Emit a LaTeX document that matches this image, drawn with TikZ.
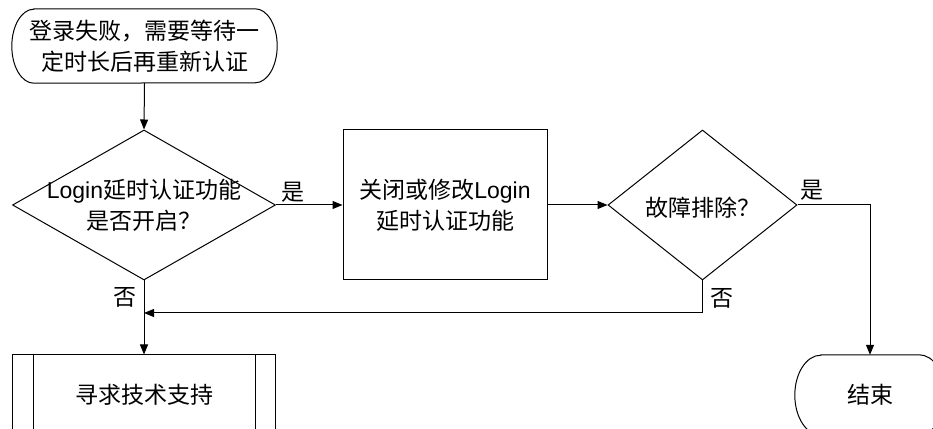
\documentclass[tikz,border=0pt]{standalone}
\usepackage{fontspec}
\setmainfont{Noto Sans CJK SC}
\newfontfamily\lat{Liberation Sans}
\usetikzlibrary{shapes.geometric,arrows.meta}
\begin{document}
\begin{tikzpicture}[x=1pt,y=1pt,
  every node/.style={font=\fontsize{23}{31}\selectfont, text=black},
  line/.style={line width=1pt, draw=black},
  arr/.style={line, -{Triangle[length=10pt,width=8pt]}},
  dia/.style={shape=diamond, line, minimum width=#1, minimum height=150pt, inner sep=0pt},
  boxnode/.style={shape=rectangle, line, inner sep=0pt, align=center},
  termnode/.style={shape=rectangle, draw=none, inner sep=0pt, align=center},
  lbl/.style={inner sep=0pt}
]
\useasboundingbox (0,0) rectangle (933,428);
\clip (0,0) rectangle (933,428);

% start terminator
\node[termnode, minimum width=265pt, minimum height=74pt] (s) at (144.5,382) {登录失败，需要等待一\\定时长后再重新认证};
\draw[line] ([xshift=22pt]s.north west) -- ([xshift=-22pt]s.north east)
  arc[start angle=90,end angle=-90,x radius=22pt,y radius=37pt]
  -- ([xshift=22pt]s.south west)
  arc[start angle=270,end angle=90,x radius=22pt,y radius=37pt] -- cycle;

% decision 1
\node[dia=263pt, label={[align=center]center:{{\lat Login}延时认证功能\\是否开启？}}] (d1) at (144,223) {};

% process box
\node[boxnode, minimum width=204pt, minimum height=150pt] (b2) at (445,223) {关闭或修改{\lat Login}\\延时认证功能};

% decision 2
\node[dia=189pt, label={[yshift=-3pt]center:{故障排除？}}] (d2) at (702.5,223) {};

% end terminator
\node[termnode, minimum width=150pt, minimum height=80pt] (e) at (870,33) {结束};
\draw[line] ([xshift=26pt]e.north west) -- ([xshift=-26pt]e.north east)
  arc[start angle=90,end angle=-90,x radius=26pt,y radius=40pt]
  -- ([xshift=26pt]e.south west)
  arc[start angle=270,end angle=90,x radius=26pt,y radius=40pt] -- cycle;

% predefined process
\node[boxnode, minimum width=263pt, minimum height=80pt] (b3) at (144,33) {寻求技术支持};
\draw[line] ([xshift=21pt]b3.north west) -- ([xshift=21pt]b3.south west);
\draw[line] ([xshift=-21pt]b3.north east) -- ([xshift=-21pt]b3.south east);

% connectors
\coordinate (j) at (144,115);
\draw[arr] (s.south) -- (d1.north);
\draw[arr] (d1.east) -- (b2.west);
\draw[arr] (b2.east) -- (d2.west);
\draw[arr] (d2.east) -| (e.north);
\draw[arr] (d1.south) -- (b3.north);
\draw[arr] (d2.south) |- (j);

% labels
\node[lbl] (y1) at (293,236) {是};
\node[lbl] (n1) at (125,131) {否};
\node[lbl] (y2) at (812,238) {是};
\node[lbl] (n2) at (722,130) {否};
\end{tikzpicture}
\end{document}
